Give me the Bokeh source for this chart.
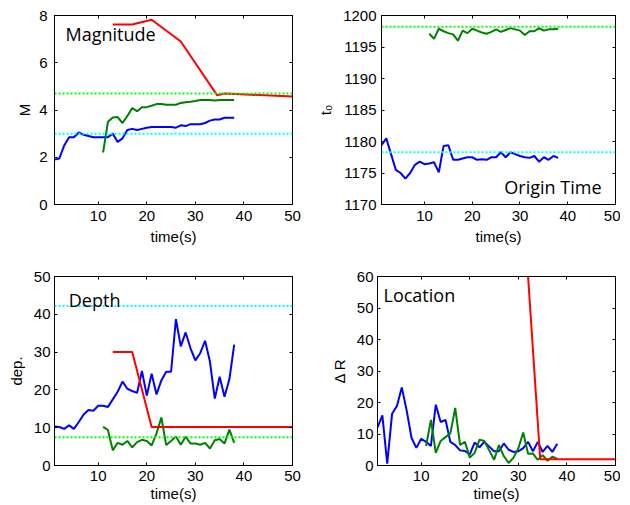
from bokeh.plotting import figure
from bokeh.models import LinearAxis, FixedTicker, Range1d, Label, Span
from bokeh.layouts import column, row
from bokeh.embed import file_html
from bokeh.resources import INLINE

# ---------------- data ----------------
t_blue = list(range(1, 39))
t_green = list(range(11, 39))
x_ticks = [10, 20, 30, 40, 50]

# Magnitude
mag_blue = [1.9, 1.95, 2.5, 2.85, 2.85, 3.05, 2.95, 2.9, 2.85, 2.85,
            2.85, 2.85, 3.0, 2.65, 2.8, 3.15, 3.2, 3.15, 3.2, 3.25,
            3.28, 3.28, 3.28, 3.28, 3.28, 3.25, 3.35, 3.32, 3.4, 3.4,
            3.4, 3.45, 3.55, 3.6, 3.6, 3.67, 3.67, 3.67]
mag_green = [2.2, 3.5, 3.68, 3.7, 3.45, 3.75, 4.08, 3.95, 4.12, 4.12,
             4.18, 4.25, 4.25, 4.22, 4.22, 4.22, 4.3, 4.33, 4.35, 4.38,
             4.42, 4.42, 4.42, 4.4, 4.42, 4.42, 4.42, 4.42]
mag_red_t = [13, 17, 21, 27, 34.5, 36, 50]
mag_red = [7.62, 7.62, 7.82, 6.9, 4.62, 4.7, 4.57]
mag_ref_green = 4.7
mag_ref_cyan = 3.0
mag_ticks = [0, 2, 4, 6, 8]

# Origin time
ot_blue = [1179.4, 1180.5, 1178.0, 1175.5, 1175.0, 1174.1, 1175.0, 1176.3, 1176.8, 1176.4,
           1176.5, 1176.7, 1175.1, 1179.3, 1179.4, 1177.1, 1177.1, 1177.3, 1177.5, 1177.5,
           1177.1, 1177.2, 1177.1, 1177.5, 1177.5, 1178.3, 1177.5, 1178.3, 1178.0, 1177.7,
           1177.5, 1177.4, 1177.7, 1176.8, 1177.5, 1177.1, 1177.7, 1177.4]
ot_green = [1197.1, 1196.3, 1197.9, 1197.5, 1197.2, 1197.0, 1196.0, 1197.6, 1197.2, 1197.9,
            1197.6, 1197.3, 1197.1, 1197.4, 1197.8, 1197.4, 1197.7, 1198.0, 1197.8, 1197.6,
            1196.9, 1197.5, 1197.5, 1198.0, 1197.6, 1197.8, 1197.8, 1197.9]
ot_ref_green = 1198.2
ot_ref_cyan = 1178.3
ot_ticks = [1170, 1175, 1180, 1185, 1190, 1195, 1200]

# Depth
dep_blue = [10.3, 10.2, 9.7, 10.6, 9.7, 11.5, 13.5, 14.7, 14.5, 15.8,
            15.8, 15.5, 17.5, 19.5, 22.2, 20.3, 19.7, 19.2, 25.0, 18.5,
            24.3, 18.8, 22.5, 24.8, 24.8, 38.7, 31.5, 35.2, 31.0, 27.8,
            29.7, 33.0, 27.5, 17.7, 23.5, 18.2, 22.8, 32.0]
dep_green = [10.2, 9.4, 4.0, 6.0, 5.5, 6.5, 4.8, 6.2, 6.8, 6.5,
             5.3, 8.5, 12.7, 5.4, 6.5, 7.7, 5.5, 7.6, 5.8, 5.8,
             5.5, 6.0, 4.5, 6.7, 7.0, 5.8, 9.5, 6.0]
dep_red_t = [13, 17, 21, 50]
dep_red = [30, 30, 10.2, 10.2]
dep_ref_cyan = 42.2
dep_ref_green = 7.45
dep_ticks = [0, 10, 20, 30, 40, 50]

# Location
loc_blue = [12.1, 15.9, 0.6, 16.4, 18.9, 24.8, 17.5, 8.8, 5.6, 8.5,
            7.5, 6.2, 19.3, 13.8, 14.5, 7.5, 6.5, 4.8, 4.6, 3.5,
            7.3, 5.8, 7.5, 6.0, 4.5, 4.5, 7.0, 5.0, 4.3, 4.5,
            5.5, 7.5, 4.5, 7.5, 4.3, 6.2, 4.3, 6.9]
loc_green = [6.2, 14.5, 4.0, 7.8, 9.0, 10.2, 18.3, 6.5, 7.5, 2.5,
             4.0, 8.2, 7.8, 4.8, 1.8, 6.5, 3.0, 0.8, 2.5, 5.5,
             10.5, 3.7, 3.8, 1.8, 3.3, 1.5, 2.8, 2.2]
loc_red_t = [32, 34.5, 50]
loc_red = [60, 2.0, 2.0]
loc_ticks = [0, 10, 20, 30, 40, 50, 60]

BLUE = "#0000ff"
GREEN = "#008000"
RED = "#ff0000"
CYAN = "#00ffff"
LGREEN = "#00ff00"
TICK_FONT = "Liberation Sans"
TICK_SIZE = "15px"


def style_axis(ax, ticks):
    ax.ticker = FixedTicker(ticks=ticks)
    ax.major_tick_in = 3
    ax.major_tick_out = 0
    ax.minor_tick_line_color = None
    ax.axis_line_color = "black"
    ax.major_tick_line_color = "black"
    ax.major_label_text_font = TICK_FONT
    ax.major_label_text_font_size = TICK_SIZE
    ax.major_label_text_color = "black"
    ax.axis_label_text_font = TICK_FONT
    ax.axis_label_text_font_size = TICK_SIZE
    ax.axis_label_text_font_style = "normal"
    ax.axis_label_text_color = "black"


def make_fig(w, h, yr, yticks, ylabel, mbl, mbr, mbt, mbb,
             ystand, ylabstand, xstand, xlabstand):
    p = figure(width=w, height=h, x_range=Range1d(1, 50), y_range=Range1d(*yr),
               output_backend="svg", toolbar_location=None,
               min_border_left=mbl, min_border_right=mbr,
               min_border_top=mbt, min_border_bottom=mbb)
    p.xgrid.visible = False
    p.ygrid.visible = False
    p.outline_line_color = "black"
    p.outline_line_width = 1
    p.background_fill_color = "white"
    p.border_fill_color = "white"
    style_axis(p.xaxis[0], x_ticks)
    style_axis(p.yaxis[0], yticks)
    p.xaxis[0].axis_label = "time(s)"
    p.yaxis[0].axis_label = ylabel
    p.xaxis[0].major_label_standoff = xstand
    p.xaxis[0].axis_label_standoff = xlabstand
    p.yaxis[0].major_label_standoff = ystand
    p.yaxis[0].axis_label_standoff = ylabstand
    # box ticks on top and right (no labels)
    for loc, ticks in (("above", x_ticks), ("right", yticks)):
        ax = LinearAxis()
        style_axis(ax, ticks)
        ax.major_label_overrides = {t: "" for t in ticks}
        ax.major_label_text_color = None
        ax.major_label_text_font_size = "1px"
        ax.major_label_standoff = 0
        ax.axis_label_standoff = 0
        p.add_layout(ax, loc)
    return p


def ref_line(p, y, color):
    p.add_layout(Span(location=y, dimension="width", line_color=color,
                      line_dash="2 2", line_width=2))


def title(p, x, y, text, align="left"):
    p.add_layout(Label(x=x, y=y, text=text, text_font="Open Sans",
                       text_font_size="18px", text_color="black",
                       text_align=align, text_baseline="middle"))


# Panel 1: Magnitude
p1 = make_fig(314, 258, (0, 8), mag_ticks, "M", 54, 22, 15, 54, 7, 3, 6, 4)
ref_line(p1, mag_ref_green, LGREEN)
ref_line(p1, mag_ref_cyan, CYAN)
p1.line(t_blue, mag_blue, line_color=BLUE, line_width=2)
p1.line(t_green, mag_green, line_color=GREEN, line_width=2)
p1.line(mag_red_t, mag_red, line_color=RED, line_width=2)
title(p1, 3.26, 7.23, "Magnitude")

# Panel 2: Origin time
p2 = make_fig(306, 258, (1170, 1200), ot_ticks, "t₀", 62, 5, 15, 54, 5, 6, 6, 4)
ref_line(p2, ot_ref_green, LGREEN)
ref_line(p2, ot_ref_cyan, CYAN)
p2.line(t_blue, ot_blue, line_color=BLUE, line_width=2)
p2.line(t_green, ot_green, line_color=GREEN, line_width=2)
title(p2, 47.07, 1172.75, "Origin Time", align="right")

# Panel 3: Depth
p3 = make_fig(314, 247, (0, 50), dep_ticks, "dep.", 54, 22, 18, 40, 4, 6, 5, 1)
ref_line(p3, dep_ref_cyan, CYAN)
ref_line(p3, dep_ref_green, LGREEN)
p3.line(t_blue, dep_blue, line_color=BLUE, line_width=2)
p3.line(t_green, dep_green, line_color=GREEN, line_width=2)
p3.line(dep_red_t, dep_red, line_color=RED, line_width=2)
title(p3, 3.94, 43.8, "Depth")

# Panel 4: Location
p4 = make_fig(306, 247, (0, 60), loc_ticks, "Δ R", 63, 5, 18, 40, 4, 6, 5, 1)
p4.line(t_blue, loc_blue, line_color=BLUE, line_width=2)
p4.line(t_green, loc_green, line_color=GREEN, line_width=2)
p4.line(loc_red_t, loc_red, line_color=RED, line_width=2)
title(p4, 2.24, 54.2, "Location")

layout = column(row(p1, p2), row(p3, p4))

with open("out.html", "w") as f:
    f.write(file_html(layout, INLINE))
